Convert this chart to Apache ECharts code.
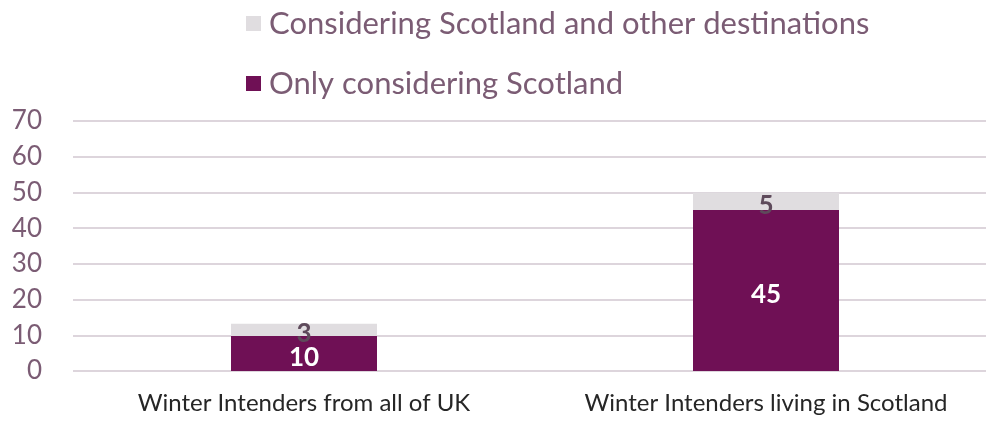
<!DOCTYPE html>
<html>
<head>
<meta charset="utf-8">
<script src="https://cdn.jsdelivr.net/npm/echarts@6/dist/echarts.min.js"></script>
<style>html,body{margin:0;padding:0;background:#fff}#c{width:986px;height:423px}</style>
</head>
<body>
<div id="c"></div>
<script>
var categories = ['Winter Intenders from all of UK', 'Winter Intenders living in Scotland'];
var seriesNames = ['Only considering Scotland', 'Considering Scotland and other destinations'];
var onlyScotland = [9.8, 45.1];
var alsoOther = [3.4, 4.8];
var yTicks = { min: 0, max: 70, interval: 10 };

var FONT = 'Lato';
var chart = echarts.init(document.getElementById('c'), null, { renderer: 'canvas' });
chart.setOption({
  animation: false,
  backgroundColor: '#ffffff',
  textStyle: { fontFamily: FONT },
  legend: {
    orient: 'vertical',
    left: 241,
    top: 3,
    itemWidth: 15,
    itemHeight: 15,
    itemGap: 29,
    icon: 'rect',
    data: [seriesNames[1], seriesNames[0]],
    textStyle: { fontFamily: FONT, fontSize: 31, color: '#7b5c74', padding: [0, 0, 0, 3] }
  },
  grid: { left: 73, top: 121, width: 924, bottom: 52, containLabel: false, outerBoundsMode: 'none' },
  xAxis: {
    type: 'category',
    data: categories,
    axisLine: { show: false },
    axisTick: { show: false },
    axisLabel: { interval: 0, hideOverlap: false, fontFamily: FONT, fontSize: 24, color: '#262626', margin: 20 }
  },
  yAxis: {
    type: 'value',
    min: yTicks.min, max: yTicks.max, interval: yTicks.interval,
    axisLine: { show: false },
    axisTick: { show: false },
    splitLine: { lineStyle: { color: '#ddd5dc', width: 2 } },
    axisLabel: { fontFamily: FONT, fontSize: 26, color: '#7b5c74', margin: 31 }
  },
  series: [
    {
      name: seriesNames[0], type: 'bar', stack: 's', barWidth: 146,
      data: onlyScotland,
      itemStyle: { color: '#6f1055' },
      label: { show: true, position: 'inside', offset: [0, 4], color: '#ffffff', fontWeight: 'bold', fontSize: 26, fontFamily: FONT,
        formatter: function (p) { return Math.round(p.value); } }
    },
    {
      name: seriesNames[1], type: 'bar', stack: 's', barWidth: 146,
      data: alsoOther,
      itemStyle: { color: '#e0dde0' },
      label: { show: true, position: 'inside', offset: [0, 4], color: '#5e4a5b', fontWeight: 'bold', fontSize: 26, fontFamily: FONT,
        formatter: function (p) { return Math.round(p.value); } }
    }
  ]
});
</script>
</body>
</html>
